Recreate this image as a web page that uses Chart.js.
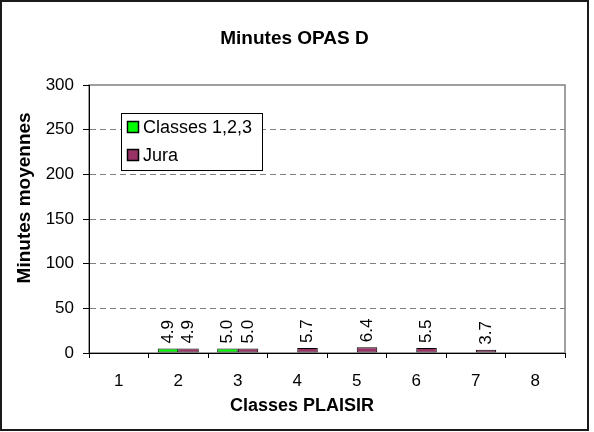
<!DOCTYPE html>
<html>
<head>
<meta charset="utf-8">
<script src="https://cdn.jsdelivr.net/npm/chart.js@4/dist/chart.umd.min.js"></script>
<style>
html,body{margin:0;padding:0;background:#fff;}
canvas{display:block;}
</style>
</head>
<body>
<canvas id="c" width="594" height="432"></canvas>
<script>
const categories = ['1','2','3','4','5','6','7','8'];
const seriesNames = ['Classes 1,2,3', 'Jura'];
const classesValues = [null, 4.9, 5.0, null, null, null, null, null];
const juraValues = [null, 4.9, 5.0, 5.7, 6.4, 5.5, 3.7, null];
const yTicks = [0, 50, 100, 150, 200, 250, 300];

const FONT = "'Liberation Sans', Arial, Helvetica, sans-serif";

const framePlugin = {
  id: 'frame',
  beforeDraw(chart) {
    const ctx = chart.ctx;
    const a = chart.chartArea;
    ctx.save();
    ctx.fillStyle = '#fff';
    ctx.fillRect(0, 0, chart.width, chart.height);
    ctx.strokeStyle = '#1a1a1a';
    ctx.lineWidth = 2;
    ctx.strokeRect(1, 1, 587, 429);
    ctx.strokeStyle = '#808080';
    ctx.lineWidth = 1.5;
    ctx.strokeRect(a.left, a.top, a.right - a.left, a.bottom - a.top);
    ctx.restore();
  }
};

const labelPlugin = {
  id: 'barLabels',
  afterDatasetsDraw(chart) {
    const ctx = chart.ctx;
    ctx.save();
    ctx.fillStyle = '#000';
    ctx.font = '17px ' + FONT;
    ctx.textAlign = 'left';
    ctx.textBaseline = 'middle';
    chart.data.datasets.forEach((ds, di) => {
      const meta = chart.getDatasetMeta(di);
      meta.data.forEach((el, i) => {
        const v = ds.data[i];
        if (v === null || v === undefined) return;
        ctx.save();
        ctx.translate(el.x, el.y - 5);
        ctx.rotate(-Math.PI / 2);
        ctx.fillText(v.toFixed(1), 0, 0);
        ctx.restore();
      });
    });
    ctx.restore();
  }
};

const legendPlugin = {
  id: 'boxLegend',
  afterDraw(chart) {
    const ctx = chart.ctx;
    ctx.save();
    ctx.fillStyle = '#fff';
    ctx.fillRect(121.5, 113.5, 141, 57);
    ctx.strokeStyle = '#000';
    ctx.lineWidth = 1;
    ctx.strokeRect(121.5, 113.5, 141, 57);
    ctx.font = '18px ' + FONT;
    ctx.textAlign = 'left';
    ctx.textBaseline = 'middle';
    chart.data.datasets.forEach((ds, i) => {
      const y = 127 + i * 28;
      ctx.fillStyle = ds.backgroundColor;
      ctx.fillRect(127.5, y - 5.5, 11, 11);
      ctx.strokeStyle = '#000';
      ctx.lineWidth = 1.5;
      ctx.strokeRect(127.5, y - 5.5, 11, 11);
      ctx.fillStyle = '#000';
      ctx.fillText(ds.label, 143, y + 1);
    });
    ctx.restore();
  }
};

new Chart(document.getElementById('c'), {
  type: 'bar',
  data: {
    labels: categories,
    datasets: [
      {
        label: seriesNames[0],
        data: classesValues,
        backgroundColor: '#00ff00',
        borderColor: '#000',
        borderWidth: 1,
        borderSkipped: false,
        categoryPercentage: 0.69,
        barPercentage: 1.0
      },
      {
        label: seriesNames[1],
        data: juraValues,
        backgroundColor: '#993366',
        borderColor: '#000',
        borderWidth: 1,
        borderSkipped: false,
        categoryPercentage: 0.69,
        barPercentage: 1.0
      }
    ]
  },
  options: {
    responsive: false,
    animation: false,
    devicePixelRatio: 1,
    layout: { padding: { left: 0, right: 5, top: 0, bottom: 0 } },
    plugins: {
      legend: { display: false },
      tooltip: { enabled: false },
      title: {
        display: true,
        text: 'Minutes OPAS D',
        color: '#000',
        font: { family: FONT, size: 19, weight: 'bold' },
        padding: { top: 27, bottom: 35.2 }
      }
    },
    scales: {
      x: {
        position: 'bottom',
        grid: {
          offset: true,
          drawOnChartArea: false,
          drawTicks: true,
          tickLength: 5,
          tickColor: '#000',
          tickWidth: 1
        },
        border: { display: true, color: '#000', width: 1 },
        ticks: {
          color: '#000',
          font: { family: FONT, size: 17 },
          padding: 13,
          maxRotation: 0
        },
        title: {
          display: true,
          text: 'Classes PLAISIR          ',
          color: '#000',
          font: { family: FONT, size: 18, weight: 'bold' },
          padding: { top: 0, bottom: 15 }
        },
        afterFit(scale) { scale.height = 79; }
      },
      y: {
        position: 'left',
        min: 0,
        max: 300,
        afterBuildTicks(scale) { scale.ticks = yTicks.map(v => ({ value: v })); },
        grid: {
          color: (c) => (c.tick && (c.tick.value === 0 || c.tick.value === 300)) ? 'rgba(0,0,0,0)' : '#808080',
          lineWidth: 1,
          drawTicks: true,
          tickLength: 6,
          tickColor: '#000',
          tickWidth: 1,
          tickBorderDash: []
        },
        border: { display: true, color: '#000', width: 1, dash: [6, 4] },
        ticks: {
          color: '#000',
          font: { family: FONT, size: 17 },
          padding: 9
        },
        title: {
          display: true,
          text: '        Minutes moyennes',
          color: '#000',
          font: { family: FONT, size: 19, weight: 'bold' },
          padding: { top: 13, bottom: 0 }
        },
        afterFit(scale) { scale.width = 89; }
      },
      y2: {
        position: 'right',
        display: true,
        min: 0,
        max: 1,
        grid: { display: false, drawOnChartArea: false, drawTicks: false },
        border: { display: false },
        ticks: { display: false },
        afterFit(scale) { scale.width = 24; }
      }
    }
  },
  plugins: [framePlugin, labelPlugin, legendPlugin]
});
</script>
</body>
</html>
